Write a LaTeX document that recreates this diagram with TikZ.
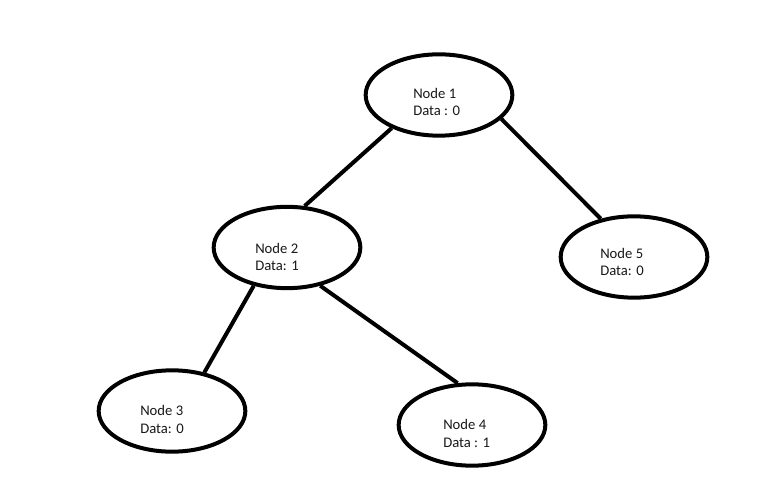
\documentclass[tikz,border=0pt]{standalone}
\usepackage{fontspec}
\setmainfont{Carlito}
\usetikzlibrary{shapes.geometric}
\begin{document}
\begin{tikzpicture}[x=0.75pt,y=-0.75pt,
  treenode/.style={ellipse,draw=black,line width=3pt,minimum width=110pt,minimum height=61pt,inner sep=0pt},
  label/.style={anchor=base west,inner sep=0pt,align=left,font=\fontsize{11}{13.3}\selectfont,text=black!90},
  link/.style={line width=3pt,line cap=butt}]
\useasboundingbox[fill=white] (0,0) rectangle (771,502);
\node[treenode] (n1) at (439,95) {};
\node[treenode] (n2) at (287,247.5) {};
\node[treenode] (n5) at (634,257) {};
\node[treenode] (n3) at (172,411) {};
\node[treenode] (n4) at (472,425) {};
\node[label] (t1) at (413,116) {Node 1\\Data : 0};
\node[label] (t2) at (255,271) {Node 2\\Data: 1};
\node[label] (t5) at (600,276) {Node 5\\Data: 0};
\node[label] (t3) at (140,433) {Node 3\\Data: 0};
\node[label] (t4) at (443,447) {Node 4\\Data : 1};
\draw[link] (n1.215) -- (n2.67);
\draw[link] (n1.339) -- (n5.131);
\draw[link] (n2.229) -- (n3.50);
\draw[link] (n2.311) -- (n4.109);
\end{tikzpicture}
\end{document}
